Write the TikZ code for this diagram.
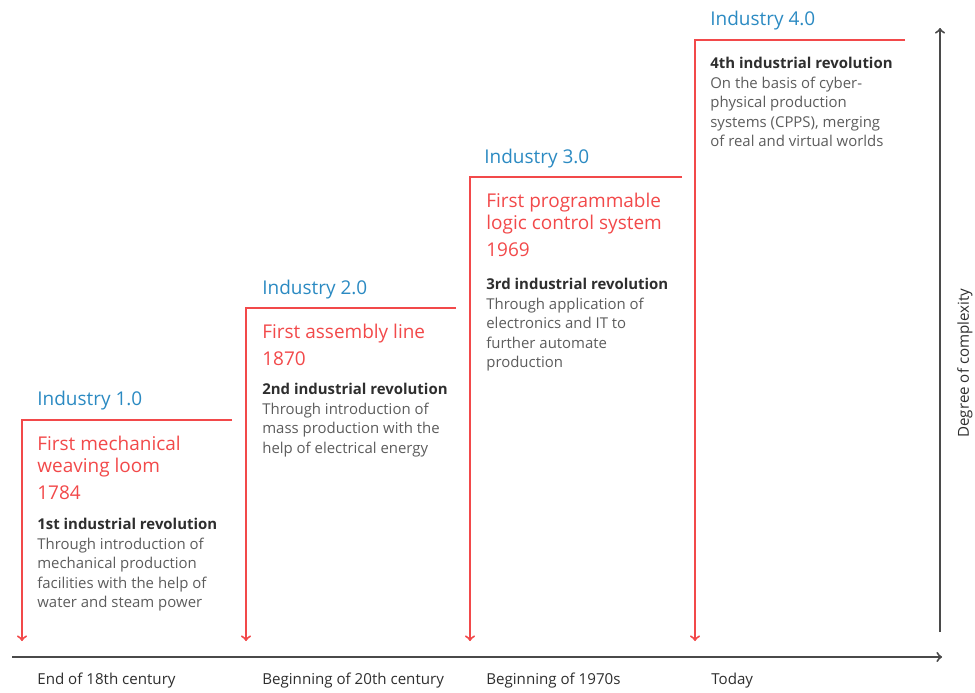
\documentclass[tikz,border=0pt]{standalone}
\usepackage{fontspec}
\setmainfont{Open Sans}
\usetikzlibrary{arrows}
\definecolor{indblue}{HTML}{2B8AC2}
\definecolor{indred}{HTML}{F2494A}
\definecolor{indgray}{HTML}{5C5C5C}
\definecolor{inddark}{HTML}{2E2E2E}
\definecolor{axisgray}{HTML}{4A4A4A}
\tikzstyle{era} = [anchor=west, inner sep=0pt, text=indblue,
  font=\fontsize{10.8}{12}\selectfont]
\tikzstyle{invention} = [anchor=north west, inner sep=0pt, align=left,
  text=indred, font=\fontsize{10.8}{12.5}\selectfont]
\tikzstyle{texto} = [anchor=north west, inner sep=0pt, align=left,
  text=indgray, font=\fontsize{8.5}{11.1}\selectfont]
\tikzstyle{period} = [anchor=west, inner sep=0pt, text=inddark,
  font=\fontsize{8.6}{10}\selectfont]
\tikzstyle{stage} = [draw, line width=1.1pt, color=indred, -to]
\tikzstyle{axis} = [draw, line width=1.1pt, color=axisgray, -to]
\newcommand{\era}[2]{node (e#1) [era] {Industry #2}}
\newcommand{\head}[1]{\textbf{\color{inddark}#1}}

\begin{document}
\begin{tikzpicture}[x=0.02cm, y=-0.02cm]
\useasboundingbox (0,0) rectangle (975,693);

% Corners of the steps
\coordinate (k1) at (22,420);  \coordinate (r1) at (232,420); \coordinate (b1) at (22,641);
\coordinate (k2) at (246,308); \coordinate (r2) at (456,308); \coordinate (b2) at (246,641);
\coordinate (k3) at (470,177); \coordinate (r3) at (682,177); \coordinate (b3) at (470,641);
\coordinate (k4) at (695,40);  \coordinate (r4) at (905,40);  \coordinate (b4) at (695,641);

% Axes
\coordinate (o) at (12,657);  \coordinate (t) at (942,657);
\coordinate (v0) at (940,632); \coordinate (v1) at (940,28);

% Draw steps
\path [stage] (r1) -- (k1) -- (b1);
\path [stage] (r2) -- (k2) -- (b2);
\path [stage] (r3) -- (k3) -- (b3);
\path [stage] (r4) -- (k4) -- (b4);

\path [axis] (o) -- (t);
\path [axis] (v0) -- (v1);

% Stage titles
\path (37,401)  \era{1}{1.0};
\path (262,290) \era{2}{2.0};
\path (484,159) \era{3}{3.0};
\path (710,21)  \era{4}{4.0};

% Inventions
\node (i1) [invention] at (37,436) {First mechanical\\weaving loom\\[2.6pt]1784};
\node (i2) [invention] at (262,324) {First assembly line\\[2.6pt]1870};
\node (i3) [invention] at (486,193) {First programmable\\logic control system\\[2.6pt]1969};

% Descriptions
\node (d1) [texto] at (37,518) {\head{1st industrial revolution}\\Through introduction of\\
  mechanical production\\facilities with the help of\\water and steam power};
\node (d2) [texto] at (262,383) {\head{2nd industrial revolution}\\Through introduction of\\
  mass production with the\\help of electrical energy};
\node (d3) [texto] at (486,278) {\head{3rd industrial revolution}\\Through application of\\
  electronics and IT to\\further automate\\production};
\node (d4) [texto] at (710,57) {\head{4th industrial revolution}\\On the basis of cyber-\\
  physical production\\systems (CPPS), merging\\of real and virtual worlds};

% Time axis labels
\node (p1) [period] at (37,681) {End of 18th century};
\node (p2) [period] at (262,681) {Beginning of 20th century};
\node (p3) [period] at (486,681) {Beginning of 1970s};
\node (p4) [period] at (711,681) {Today};

\node (cx) [period, anchor=center, rotate=90] at (965,363) {Degree of complexity};

\end{tikzpicture}
\end{document}
